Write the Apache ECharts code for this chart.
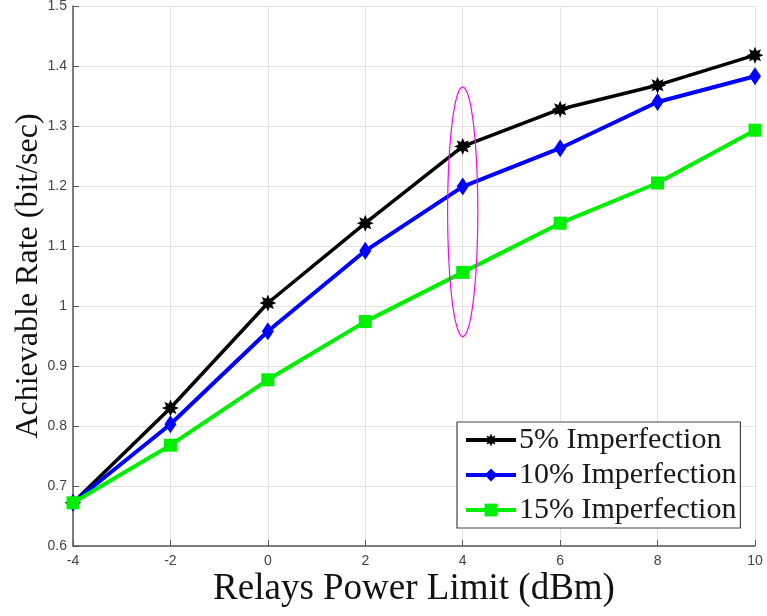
<!DOCTYPE html>
<html>
<head>
<meta charset="utf-8">
<script src="https://cdn.jsdelivr.net/npm/echarts@6/dist/echarts.min.js"></script>
<style>
html,body{margin:0;padding:0;background:#fff;}
#main{width:767px;height:616px;}
</style>
</head>
<body>
<div id="main"></div>
<script>
const xValues = [-4, -2, 0, 2, 4, 6, 8, 10];
const rate5 = [0.672, 0.830, 1.005, 1.138, 1.266, 1.328, 1.368, 1.418];
const rate10 = [0.672, 0.803, 0.958, 1.092, 1.199, 1.263, 1.340, 1.383];
const rate15 = [0.672, 0.768, 0.877, 0.974, 1.056, 1.138, 1.205, 1.293];
const seriesNames = ['5% Imperfection', '10% Imperfection', '15% Imperfection'];
// annotation ellipse: [centerX, centerY, radiusX, radiusY] in data units
const ellipseAnno = [[4, 1.157, 0.31, 0.208]];

const toPairs = arr => xValues.map((x, i) => [x, arr[i]]);
const asterisk = 'path://M20,10 L15.08,12.11 L17.07,17.07 L12.11,15.08 L10,20 L7.89,15.08 L2.93,17.07 L4.92,12.11 L0,10 L4.92,7.89 L2.93,2.93 L7.89,4.92 L10,0 L12.11,4.92 L17.07,2.93 L15.08,7.89 Z';

const chart = echarts.init(document.getElementById('main'));
chart.setOption({
  animation: false,
  backgroundColor: '#fff',
  grid: { left: 73, right: 12, top: 6, bottom: 70, containLabel: false, outerBoundsMode: 'none' },
  xAxis: {
    type: 'value', min: -4, max: 10, interval: 2,
    name: 'Relays Power Limit (dBm)', nameLocation: 'middle', nameGap: 25, nameMoveOverlap: false,
    nameTextStyle: { fontFamily: 'Liberation Serif', fontSize: 37, color: '#111' },
    axisLine: { show: true, onZero: false, lineStyle: { color: '#555', width: 1.5 } },
    axisTick: { show: true, inside: true, length: 6, lineStyle: { color: '#555' } },
    axisLabel: { color: '#444', fontFamily: 'Liberation Sans', fontSize: 14, margin: 8 },
    splitLine: { show: true, lineStyle: { color: '#e3e3e3', width: 1 } }
  },
  yAxis: {
    type: 'value', min: 0.6, max: 1.5, interval: 0.1,
    name: 'Achievable Rate (bit/sec)', nameLocation: 'middle', nameGap: 28, nameMoveOverlap: false,
    nameTextStyle: { fontFamily: 'Liberation Serif', fontSize: 32, color: '#111' },
    axisLine: { show: true, onZero: false, lineStyle: { color: '#555', width: 1.5 } },
    axisTick: { show: true, inside: true, length: 6, lineStyle: { color: '#555' } },
    axisLabel: { color: '#444', fontFamily: 'Liberation Sans', fontSize: 14, margin: 6,
      formatter: v => String(Math.round(v * 10) / 10) },
    splitLine: { show: true, lineStyle: { color: '#e3e3e3', width: 1 } }
  },
  legend: {
    data: seriesNames,
    orient: 'vertical', left: 457, top: 422,
    backgroundColor: '#fff', borderColor: '#444', borderWidth: 1.2,
    padding: [3, 4, 3, 7], itemGap: 5, itemWidth: 50, itemHeight: 16,
    lineStyle: { width: 4 },
    textStyle: { fontFamily: 'Liberation Serif', fontSize: 30, color: '#1a1a1a', padding: [0, 0, 0, -2] }
  },
  series: [
    { name: seriesNames[0], type: 'line', data: toPairs(rate5), color: '#000',
      lineStyle: { width: 3.5 }, symbol: asterisk, symbolSize: 17, itemStyle: { color: '#000' }, z: 3 },
    { name: seriesNames[1], type: 'line', data: toPairs(rate10), color: '#0000ff',
      lineStyle: { width: 4 }, symbol: 'diamond', symbolSize: [12, 18], itemStyle: { color: '#0000ff' }, z: 4 },
    { name: seriesNames[2], type: 'line', data: toPairs(rate15), color: '#00ee00',
      lineStyle: { width: 4 }, symbol: 'rect', symbolSize: 13, itemStyle: { color: '#00ee00' }, z: 5 },
    { name: 'ellipse', type: 'custom', data: ellipseAnno, z: 10, silent: true,
      renderItem: function (params, api) {
        const cx = api.value(0), cy = api.value(1), rx = api.value(2), ry = api.value(3);
        const pts = [];
        for (let k = 0; k < 72; k++) {
          const t = k / 72 * Math.PI * 2;
          pts.push(api.coord([cx + rx * Math.cos(t), cy + ry * Math.sin(t)]));
        }
        return { type: 'polygon', shape: { points: pts },
          style: { fill: 'none', stroke: '#ff00ff', lineWidth: 1.2 } };
      }
    }
  ]
});
</script>
</body>
</html>
